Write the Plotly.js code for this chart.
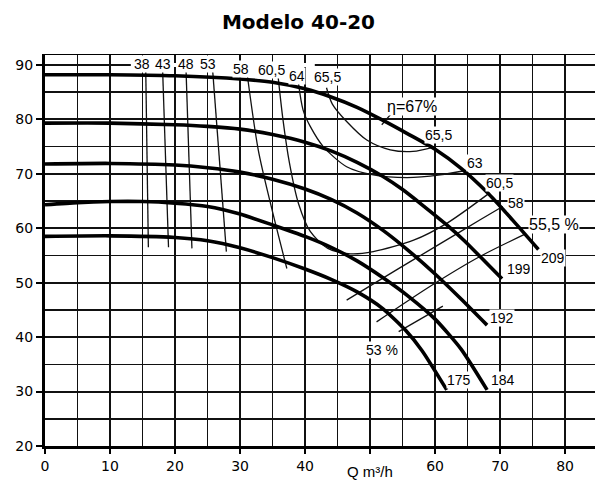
<!DOCTYPE html>
<html><head><meta charset="utf-8">
<script src="https://cdn.plot.ly/plotly-3.0.1.min.js"></script>
<style>html,body{margin:0;padding:0;background:#fff}#chart{width:597px;height:484px}</style>
</head><body><div id="chart"></div>
<script>
// Head curves H (m) vs Q (m³/h) for each impeller diameter (mm)
const q209 = [0,10,20,30,35,40,44,48,52,56,60,64,68,72,75.9];
const h209 = [88.2,88.2,88.0,87.4,86.8,85.6,84.1,82.2,79.8,77.2,74.5,71.0,66.6,61.4,56.1];
const q199 = [0,10,20,25,30,35,40,44,48,52,55,58,61.8,64.5,67,70.3];
const h199 = [79.3,79.3,79.0,78.7,78.2,77.2,75.8,74.2,72.1,69.5,67.1,64.3,60.6,57.7,54.7,50.7];
const q192 = [0,10,20,25,30,35,40,44,48,52,56,60,64,68];
const h192 = [71.8,71.9,71.6,71.1,70.3,69.0,67.2,65.3,62.8,59.6,55.8,51.6,47.0,42.2];
const q184 = [0,5,10,15,20,25,30,35,40,44,48,52,56,60,64,68];
const h184 = [64.3,64.7,64.9,64.9,64.6,64.0,62.6,60.6,58.5,56.5,54.0,50.9,47.4,43.3,37.8,30.3];
const q175 = [0,10,20,25,30,35,40,44,48,52,55.5,58,61.8];
const h175 = [58.5,58.6,58.3,57.7,56.4,54.6,52.5,50.6,48.3,45.2,41.2,37.5,30.3];

// Iso-efficiency lines (%)
const eff38q = [15.5,15.9],  eff38h = [88.8,56.5];
const eff43q = [18.1,19.0],  eff43h = [88.8,56.5];
const eff48q = [21.7,22.6],  eff48h = [88.8,56.3];
const eff53q = [25.8,27.9],  eff53h = [88.8,55.7];
const eff58Lq = [31.0,32.8,34.9,37.2], eff58Lh = [89.2,74.4,63.5,52.6];
const eff605q = [35.8,36.6,37.6,39.0,40.8,43.5,47,50.5,56.7,61.8,68.3];
const eff605h = [88.5,80,72,64.5,59.4,56.3,55.3,55.7,57.8,60.9,66.4];
const eff64q = [39.0,39.7,40.8,42.8,46.4,50.5,55.7,60.8,64.7];
const eff64h = [86.5,81.7,78.7,75.0,71.3,69.8,69.3,69.8,70.6];
const eff655q = [43.3,44.2,46.4,49.5,53.1,56.6,59.8];
const eff655h = [85.8,82.8,79.6,76.2,74.4,74.1,74.9];
const eff58Rq = [46.4,54,61,67,70.4], eff58Rh = [46.8,52.3,57.3,61.6,64.0];
const eff555q = [51,59.2,66.9,74.0],  eff555h = [42.8,49.3,54.8,59.0];
const eff53Rq = [54.4,61.2], eff53Rh = [41.0,45.7];
const eff67q = [51.8,53.3],  eff67h = [79.0,81.1];

// Labels
const labelText = ['38','43','48','53','58','60,5','64','65,5','η=67%','65,5','63','60,5','58','55,5 %','209','199','192','184','175','53 %'];
const labelQ = [14.9,18.1,21.7,25.0,30.2,34.9,38.8,43.5,56.4,60.6,66.2,69.9,72.5,78.3,78.1,72.9,70.3,70.5,63.7,51.8];
const labelH = [90.1,90.1,90.1,90.1,89.3,89.0,87.9,87.8,82.3,77.1,71.9,68.3,64.7,60.6,54.5,52.5,43.5,32.1,32.1,37.6];
const axisLabel = 'Q m³/h';

const xTickVals = [0,10,20,30,40,50,60,70,80];
const xTickText = ['0','10','20','30','40','','60','70','80'];
const yTickVals = [20,30,40,50,60,70,80,90];

const traces = [];
function effLine(q,h,spline){
  traces.push({x:q,y:h,type:'scatter',mode:'lines',hoverinfo:'skip',
    line:{color:'#111',width:1.3,shape:spline?'spline':'linear',smoothing:0.8}});
}
effLine(eff38q,eff38h,false);
effLine(eff43q,eff43h,false);
effLine(eff48q,eff48h,false);
effLine(eff53q,eff53h,false);
effLine(eff58Lq,eff58Lh,true);
effLine(eff605q,eff605h,true);
effLine(eff64q,eff64h,true);
effLine(eff655q,eff655h,true);
effLine(eff58Rq,eff58Rh,true);
effLine(eff555q,eff555h,true);
effLine(eff53Rq,eff53Rh,false);
effLine(eff67q,eff67h,false);

[[q209,h209],[q199,h199],[q192,h192],[q184,h184],[q175,h175]].forEach(function(c){
  traces.push({x:c[0],y:c[1],type:'scatter',mode:'lines',hoverinfo:'skip',
    line:{color:'#000',width:3.6,shape:'spline',smoothing:0.6}});
});

const annotations = labelText.map(function(t,i){
  const big = (t==='η=67%'||t==='55,5 %');
  return {x:labelQ[i],y:labelH[i],text:t,showarrow:false,bgcolor:'white',borderpad:0,
    font:{family:'Liberation Sans, Arial, sans-serif',size:big?16:14,color:'#000'}};
});
annotations.push({x:50,xref:'x',y:-0.065,yref:'paper',yanchor:'middle',text:axisLabel,showarrow:false,
  font:{family:'Liberation Sans, Arial, sans-serif',size:15,color:'#000'}});

const layout = {
  width:597,height:484,
  margin:{l:45,r:2,t:54,b:38},
  paper_bgcolor:'white',plot_bgcolor:'white',
  showlegend:false,
  title:{text:'<b>Modelo 40-20</b>',font:{family:'DejaVu Sans, Verdana, sans-serif',size:20,color:'#000'},
    x:0.5,xref:'container',xanchor:'center',y:0.955,yref:'container',yanchor:'middle'},
  xaxis:{range:[0,84.6],tickmode:'array',tickvals:xTickVals,ticktext:xTickText,
    showgrid:true,gridcolor:'#111',gridwidth:2,zeroline:false,
    showline:true,linecolor:'#000',linewidth:3,
    ticks:'outside',ticklen:5,tickwidth:2,tickcolor:'#000',
    minor:{tickmode:'linear',tick0:0,dtick:5,showgrid:true,gridcolor:'#111',gridwidth:1.5,ticks:''},
    tickfont:{family:'DejaVu Sans, Verdana, sans-serif',size:14,color:'#000'}},
  yaxis:{range:[20,92],tickmode:'array',tickvals:yTickVals,
    showgrid:true,gridcolor:'#111',gridwidth:2,zeroline:false,
    showline:true,linecolor:'#000',linewidth:3,
    ticks:'outside',ticklen:6,tickwidth:2,tickcolor:'#000',
    minor:{tickmode:'linear',tick0:20,dtick:5,showgrid:true,gridcolor:'#111',gridwidth:1.5,ticks:''},
    tickfont:{family:'DejaVu Sans, Verdana, sans-serif',size:14,color:'#000'}},
  shapes:[
    {type:'line',xref:'paper',x0:0,x1:1,yref:'y',y0:92,y1:92,line:{color:'#000',width:2}},
    {type:'line',xref:'x',x0:13.2,x1:41.5,yref:'y',y0:90,y1:90,line:{color:'white',width:4},layer:'between'}
  ],
  annotations:annotations
};
Plotly.newPlot('chart',traces,layout,{staticPlot:true,displayModeBar:false});
</script>
</body></html>
